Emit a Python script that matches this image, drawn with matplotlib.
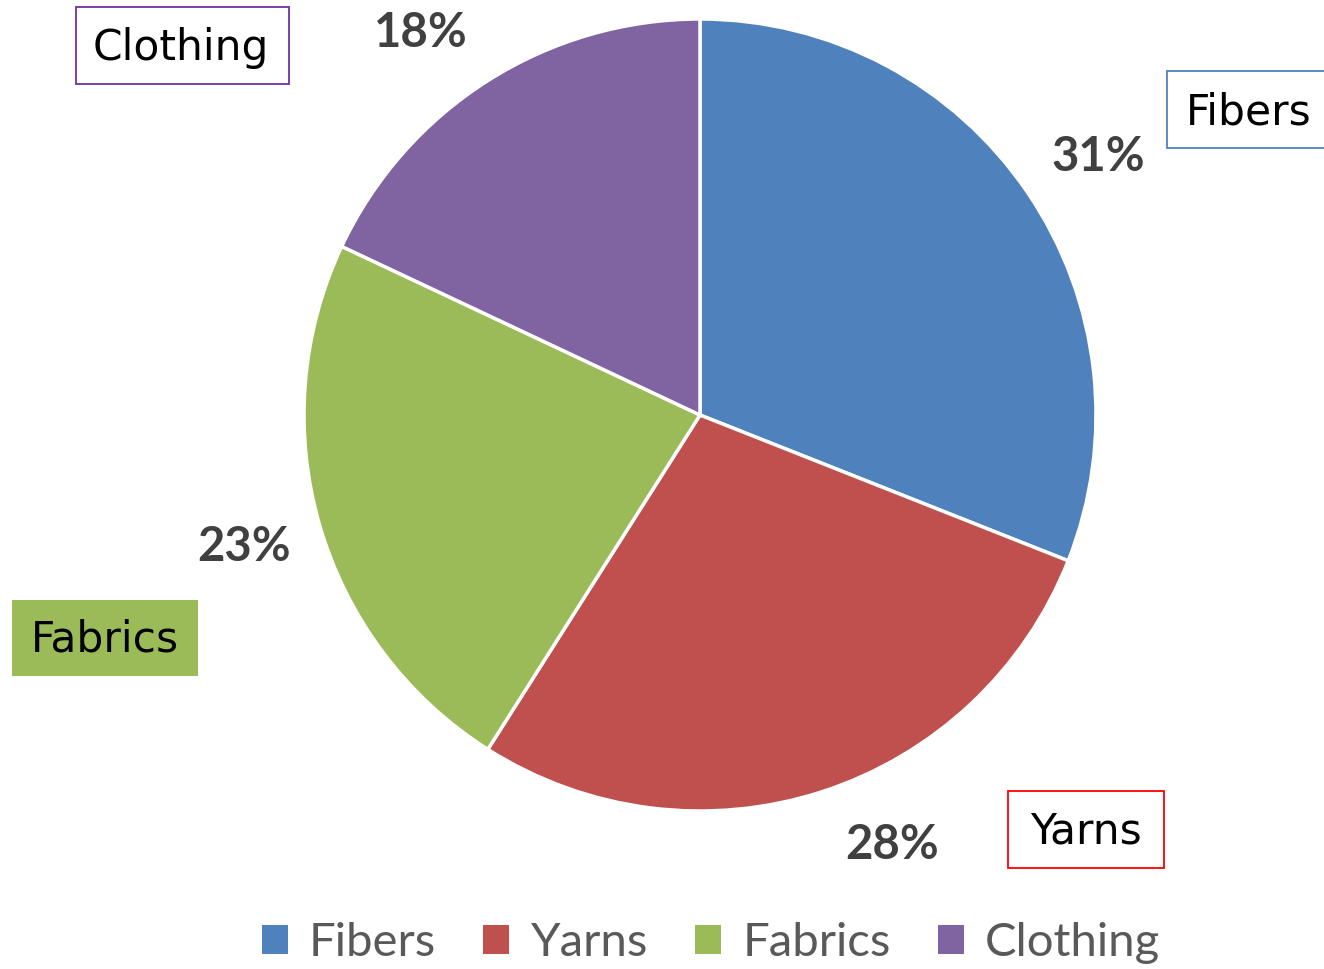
import matplotlib
matplotlib.use("Agg")
import matplotlib.pyplot as plt
from matplotlib.patches import Rectangle, Patch

categories = ["Fibers", "Yarns", "Fabrics", "Clothing"]
values = [31, 28, 23, 18]
colors = ["#4F81BD", "#C0504D", "#9BBB59", "#8064A2"]

W, H = 1324, 969
fig = plt.figure(figsize=(W / 100, H / 100), dpi=100)
ax = fig.add_axes([0, 0, 1, 1])

cx, cy, r = 700, H - 415, 396
ax.pie(values, colors=colors, startangle=90, counterclock=False,
       center=(cx, cy), radius=r, frame=True,
       wedgeprops=dict(edgecolor="white", linewidth=2.5))
ax.set_xlim(0, W)
ax.set_ylim(0, H)
ax.set_aspect("equal")
ax.axis("off")

# percentage labels
pct_pos = [(1098, 157), (892, 845), (244, 547), (421, 33)]
for v, (x, y) in zip(values, pct_pos):
    ax.text(x, H - y, f"{v}%", ha="center", va="center", fontsize=34,
            fontweight="bold", color="#404040", family="Lato")

# category label boxes
boxes = [
    ("Fibers", (1167, 71, 1345, 148), "white", "#4F81BD", (1249, 112)),
    ("Yarns", (1008, 791, 1164, 868), "white", "#FF0000", (1086, 832)),
    ("Fabrics", (12, 600, 198, 676), "#9BBB59", "none", (105, 640)),
    ("Clothing", (76, 7, 289, 84), "white", "#7030A0", (181, 48)),
]
for name, (x0, y0, x1, y1), fc, ec, (tx, ty) in boxes:
    ax.add_patch(Rectangle((x0, H - y1), x1 - x0, y1 - y0, facecolor=fc,
                           edgecolor=ec, linewidth=1.3, clip_on=False))
    ax.text(tx, H - ty, name, ha="center", va="center", fontsize=30.5,
            color="black", family="DejaVu Sans")

handles = [Patch(facecolor=c, edgecolor="none") for c in colors]
leg = fig.legend(handles, categories, loc="center", bbox_to_anchor=(0.537, 1 - 943 / H),
                 ncol=4, frameon=False, prop={"family": "Lato", "size": 34},
                 labelcolor="#595959", handlelength=0.55, handleheight=0.55,
                 handletextpad=0.45, columnspacing=1.0)

fig.savefig("out.png", dpi=100)
